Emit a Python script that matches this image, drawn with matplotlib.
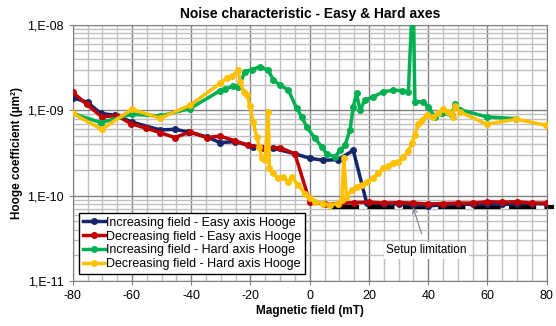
import matplotlib.pyplot as plt
from matplotlib.ticker import FixedLocator, MultipleLocator, NullFormatter

plt.rcParams['font.family'] = ['Liberation Sans', 'DejaVu Sans']
plt.rcParams['axes.unicode_minus'] = False

# Easy axis, increasing field
easy_inc_x = [-80, -75, -70.5, -65.7, -60, -50.5, -45.5, -41, -34.8, -30.3, -25.2, -19, -12.3, -5, 0,
              4.6, 9.6, 14.7, 19.2, 25, 30, 35, 40, 45, 50, 55, 60, 65, 70, 75, 80]
easy_inc_y = [1.41e-9, 1.24e-9, 9.2e-10, 8.8e-10, 7.3e-10, 5.9e-10, 6.0e-10, 5.6e-10, 4.9e-10, 4.2e-10,
              4.3e-10, 3.75e-10, 3.6e-10, 3.1e-10, 2.75e-10, 2.6e-10, 2.65e-10, 3.4e-10, 8.3e-11,
              8.0e-11, 8.0e-11, 7.8e-11, 7.6e-11, 7.8e-11, 8.0e-11, 7.9e-11, 8.0e-11, 7.9e-11,
              8.0e-11, 8.1e-11, 8.0e-11]

# Easy axis, decreasing field
easy_dec_x = [-80, -75.3, -70.2, -65.1, -60.4, -55.3, -50.5, -45.5, -40.4, -34.8, -30.3, -25.2, -20.7,
              -15.7, -10, -5, 0, 5, 10, 15, 20, 25, 30, 35, 40, 45, 50, 55, 60, 65, 70, 75, 80]
easy_dec_y = [1.63e-9, 1.18e-9, 8.4e-10, 8.7e-10, 7.0e-10, 6.2e-10, 5.5e-10, 4.8e-10, 5.6e-10, 4.8e-10,
              5.0e-10, 4.4e-10, 3.9e-10, 3.65e-10, 3.65e-10, 3.1e-10, 8.5e-11, 8.0e-11, 8.1e-11,
              8.3e-11, 8.4e-11, 8.2e-11, 8.3e-11, 8.2e-11, 8.0e-11, 8.1e-11, 8.2e-11, 8.2e-11,
              8.5e-11, 8.4e-11, 8.5e-11, 8.2e-11, 8.2e-11]

# Hard axis, increasing field
hard_inc_x = [-80, -70.5, -60, -50.5, -40.4, -30.3, -28.6, -25.8, -24.1, -21.8, -19.6, -16.8, -14,
              -12.3, -10, -7.2, -4.4, -2.7, -1, 1.8, 4, 5.7, 8.5, 10.2, 11.9, 13.6, 14.7, 15.8, 17,
              18.6, 21.4, 24.8, 28.2, 31, 33.3, 34.9, 35.5, 38.3, 40, 42.3, 44.5, 47.9, 49, 50.7,
              59.7, 69.8]
hard_inc_y = [9.2e-10, 7.2e-10, 9.0e-10, 8.6e-10, 1.05e-9, 1.7e-9, 1.76e-9, 1.94e-9, 1.9e-9, 2.84e-9,
              3.0e-9, 3.25e-9, 2.96e-9, 2.27e-9, 1.98e-9, 1.73e-9, 1.06e-9, 8.4e-10, 6.4e-10, 4.7e-10,
              3.75e-10, 3.1e-10, 2.85e-10, 3.4e-10, 3.9e-10, 5.9e-10, 1.1e-9, 1.58e-9, 1.0e-9,
              1.32e-9, 1.44e-9, 1.65e-9, 1.73e-9, 1.7e-9, 1.65e-9, 3e-8, 1.26e-9, 1.26e-9, 1.1e-9,
              8.3e-10, 9.2e-10, 8.8e-10, 1.18e-9, 1.02e-9, 8.4e-10, 8.0e-10]

# Hard axis, decreasing field
hard_dec_x = [-80, -70.2, -60, -50.5, -40.4, -30.3, -28, -26.3, -24.1, -23.5, -22.2, -21.1, -20.2,
              -19.1, -17.9, -17, -16.2, -15.1, -14, -13.6, -12.3, -10.6, -8.9, -7.2, -6.1, -3.9,
              -1.6, 0, 1.8, 4.6, 6.8, 9.6, 10.8, 11.5, 12.4, 14.2, 15.8, 17.5, 19.2, 21.4, 23.1,
              24.8, 26.5, 28.2, 29.9, 31.6, 33.3, 34.4, 35.5, 36.6, 37.8, 39.5, 41.7, 43.4, 45.1,
              46.8, 48.2, 49, 50.7, 59.7, 69.8, 79.7]
hard_dec_y = [9.2e-10, 6.0e-10, 1.03e-9, 8.1e-10, 1.15e-9, 2.07e-9, 2.4e-9, 2.5e-9, 2.96e-9, 2.15e-9,
              1.65e-9, 1.52e-9, 1.12e-9, 7.3e-10, 4.9e-10, 3.75e-10, 2.8e-10, 2.65e-10, 9.6e-10,
              2.1e-10, 1.83e-10, 1.6e-10, 1.66e-10, 1.46e-10, 1.66e-10, 1.33e-10, 1.06e-10, 9.4e-11,
              8.5e-11, 8.1e-11, 7.8e-11, 8.1e-11, 8.9e-11, 2.75e-10, 9.7e-11, 1.17e-10, 1.27e-10,
              1.33e-10, 1.46e-10, 1.6e-10, 1.83e-10, 2.1e-10, 2.2e-10, 2.4e-10, 2.5e-10, 2.85e-10,
              3.3e-10, 4.1e-10, 5.1e-10, 7.0e-10, 7.7e-10, 8.8e-10, 8.4e-10, 9.2e-10, 1.05e-9,
              9.6e-10, 8.4e-10, 1.12e-9, 9.6e-10, 6.9e-10, 7.9e-10, 6.7e-10]

limit_x = [7.5, 82.5]
limit_y = [7.3e-11, 7.3e-11]

ytick_vals = [1e-11, 1e-10, 1e-9, 1e-8]
ytick_labels = ["1,E-11", "1,E-10", "1,E-09", "1,E-08"]

fig = plt.figure(figsize=(5.56, 3.26), dpi=100)
ax = fig.add_axes([0.1308, 0.138, 0.8525, 0.785])

series = [
    (easy_inc_x, easy_inc_y, "#14266B", "Increasing field - Easy axis Hooge"),
    (easy_dec_x, easy_dec_y, "#C00000", "Decreasing field - Easy axis Hooge"),
    (hard_inc_x, hard_inc_y, "#00B050", "Increasing field - Hard axis Hooge"),
    (hard_dec_x, hard_dec_y, "#FFC000", "Decreasing field - Hard axis Hooge"),
]
for xs, ys, c, lab in series:
    ax.plot(xs, ys, color=c, lw=2.5, marker="o", ms=4, label=lab, zorder=3)

ax.plot(limit_x, limit_y, color="black", lw=3, dashes=(6.5, 2), clip_on=False, zorder=2.5)

ax.annotate("Setup limitation", xy=(34.9, 7.3e-11), xytext=(39.5, 2.3e-11),
            ha="center", va="center", fontsize=8.5,
            bbox=dict(boxstyle="square,pad=0.2", fc="white", ec="none"),
            arrowprops=dict(arrowstyle="->", color="#808080", lw=0.8, shrinkA=6, shrinkB=0),
            zorder=5)

ax.set_yscale("log")
ax.set_xlim(-80, 80)
ax.set_ylim(1e-11, 1e-8)
ax.xaxis.set_major_locator(MultipleLocator(20))
ax.xaxis.set_minor_locator(MultipleLocator(5))
ax.yaxis.set_major_locator(FixedLocator(ytick_vals))
ax.set_yticklabels(ytick_labels)
ax.yaxis.set_minor_formatter(NullFormatter())
ax.tick_params(labelsize=9, color="#808080", length=3)
ax.tick_params(which="minor", length=0)

ax.grid(True, which="major", color="#808080", lw=1.0)
ax.grid(True, which="minor", color="#BFBFBF", lw=1.0)
ax.set_axisbelow(True)
for s in ax.spines.values():
    s.set_color("#808080")

ax.set_title("Noise characteristic - Easy & Hard axes", fontsize=10, fontweight="bold", pad=5)
ax.set_xlabel("Magnetic field (mT)", fontsize=8.5, fontweight="bold", labelpad=2)
ax.set_ylabel("Hooge coefficient (µm²)", fontsize=8.5, fontweight="bold", labelpad=3)

leg = ax.legend(loc="lower left", bbox_to_anchor=(0.013, 0.027), fontsize=9, frameon=True,
                fancybox=False, edgecolor="black", framealpha=1, handlelength=1.8,
                handletextpad=0.1, borderpad=0.3, labelspacing=0.15, borderaxespad=0)
leg.get_frame().set_linewidth(1.0)

plt.savefig("out.png", dpi=100)
